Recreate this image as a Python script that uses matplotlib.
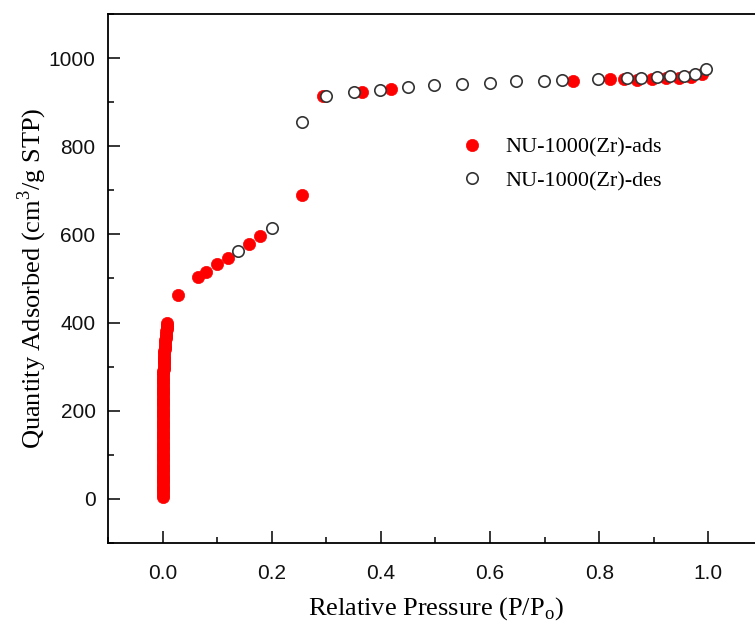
import matplotlib
matplotlib.use("Agg")
import matplotlib.pyplot as plt
from matplotlib.ticker import MultipleLocator
from matplotlib.lines import Line2D

# Adsorption branch (filled red): dense low-pressure micropore region
ads_low_x = [0.0000, 0.0000, 0.0000, 0.0000, 0.0000, 0.0000, 0.0000, 0.0000, 0.0000, 0.0000,
             0.0000, 0.0000, 0.0000, 0.0000, 0.0000, 0.0000, 0.0000, 0.0000, 0.0000, 0.0000,
             0.0001, 0.0001, 0.0001, 0.0001, 0.0001, 0.0001, 0.0001, 0.0001, 0.0001, 0.0001,
             0.0002, 0.0002, 0.0002, 0.0002, 0.0002, 0.0002, 0.0002, 0.0002, 0.0002, 0.0002,
             0.0003, 0.0003, 0.0004, 0.0004, 0.0005, 0.0005, 0.0006, 0.0006, 0.0007, 0.0007,
             0.0008, 0.0009, 0.0010, 0.0011, 0.0012, 0.0013, 0.0014, 0.0015, 0.0017, 0.0019,
             0.0021, 0.0023, 0.0025, 0.0027, 0.0029, 0.0031, 0.0034, 0.0037, 0.0040, 0.0043,
             0.0047, 0.0051, 0.0055, 0.0060, 0.0065, 0.0070, 0.0075, 0.0080, 0.0085, 0.0090]
ads_low_y = [5, 10, 15, 20, 25, 30, 35, 40, 45, 50,
             55, 60, 65, 70, 75, 80, 85, 90, 95, 100,
             105, 110, 115, 120, 125, 130, 135, 140, 145, 150,
             155, 160, 165, 170, 175, 180, 185, 190, 195, 200,
             205, 210, 215, 220, 225, 230, 235, 240, 245, 250,
             255, 260, 265, 270, 275, 280, 285, 290, 295, 300,
             305, 310, 315, 320, 325, 330, 335, 340, 345, 350,
             355, 360, 365, 370, 375, 380, 385, 390, 395, 399]
# Adsorption branch: higher pressures
ads_x = [0.029, 0.064, 0.079, 0.100, 0.119, 0.159, 0.179, 0.256, 0.293, 0.366, 0.419,
         0.751, 0.820, 0.845, 0.870, 0.896, 0.923, 0.947, 0.969, 0.989]
ads_y = [462, 503, 515, 532, 546, 578, 596, 689, 914, 923, 930,
         948, 952, 953, 950, 952, 955, 955, 957, 964]

# Desorption branch (open circles)
des_x = [0.139, 0.200, 0.256, 0.300, 0.350, 0.399, 0.449, 0.498, 0.549, 0.599,
         0.648, 0.698, 0.731, 0.797, 0.850, 0.877, 0.905, 0.930, 0.956, 0.976, 0.996]
des_y = [562, 614, 855, 914, 923, 927, 934, 939, 941, 943,
         947, 948, 950, 952, 955, 955, 957, 959, 960, 964, 975]

x_ticks = [0.0, 0.2, 0.4, 0.6, 0.8, 1.0]
y_ticks = [0, 200, 400, 600, 800, 1000]

W, H = 755, 626
fig = plt.figure(figsize=(W / 100, H / 100), dpi=100)
ax = fig.add_axes([108 / W, 1 - 543 / H, 655 / W, 529 / H])

red_style = dict(linestyle="none", marker="o", markersize=8.8,
                 markerfacecolor="#ff0000", markeredgecolor="#ff0000",
                 markeredgewidth=0.5)
ax.plot(ads_low_x, ads_low_y, zorder=3, **red_style)
ax.plot(ads_x, ads_y, zorder=3, **red_style)
ax.plot(des_x, des_y, linestyle="none", marker="o", markersize=8.2,
        markerfacecolor="white", markeredgecolor="#333333", markeredgewidth=1.2,
        zorder=4)

ax.set_xlim(-0.1, 1.1)
ax.set_ylim(-100, 1100)
ax.set_xticks(x_ticks)
ax.set_xticklabels([f"{v:.1f}" for v in x_ticks])
ax.set_yticks(y_ticks)
ax.set_yticklabels([str(v) for v in y_ticks])
ax.xaxis.set_minor_locator(MultipleLocator(0.1))
ax.yaxis.set_minor_locator(MultipleLocator(100))

ax.tick_params(which="both", direction="in", width=1.1, colors="black",
               top=False, right=False)
ax.tick_params(which="major", length=8.5, labelsize=15)
ax.tick_params(axis="x", which="major", pad=15)
ax.tick_params(axis="y", which="major", pad=9)
ax.tick_params(which="minor", length=4)
for lab in ax.get_xticklabels() + ax.get_yticklabels():
    lab.set_family(["Liberation Sans", "DejaVu Sans"])
    lab.set_color("#111111")

for s in ax.spines.values():
    s.set_linewidth(1.3)

serif = ["Liberation Serif", "DejaVu Serif"]
ax.set_xlabel(r"Relative Pressure (P/P$_\mathregular{o}$)", fontsize=19,
              family=serif, labelpad=9)
ax.set_ylabel(r"Quantity Adsorbed (cm$^\mathregular{3}$/g STP)", fontsize=19,
              family=serif, labelpad=0)

handles = [
    Line2D([], [], **red_style),
    Line2D([], [], linestyle="none", marker="o", markersize=8.2,
           markerfacecolor="white", markeredgecolor="#333333", markeredgewidth=1.2),
]
ax.legend(handles, ["NU-1000(Zr)-ads", "NU-1000(Zr)-des"], loc="center left",
          bbox_to_anchor=((461 - 108) / 655, (543 - 164) / 529),
          frameon=False, handlelength=1.0, handletextpad=1.0, borderpad=0,
          borderaxespad=0, labelspacing=0.6,
          prop={"family": serif, "size": 16})

fig.savefig("out.png", dpi=100)
